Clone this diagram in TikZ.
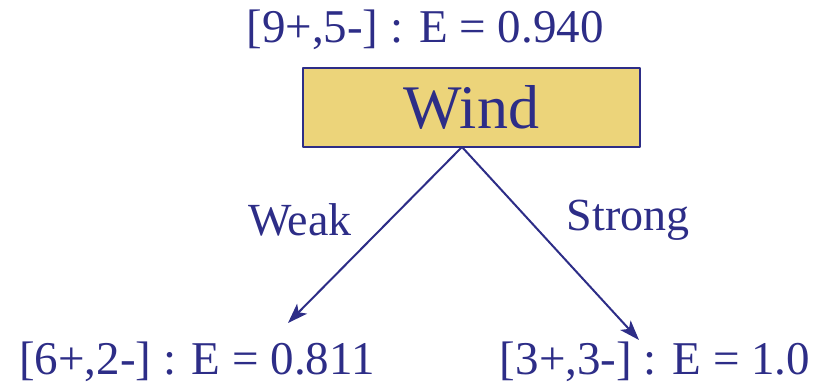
\documentclass[tikz,border=0pt]{standalone}
\usepackage{fontspec}
\setmainfont{Liberation Serif}
\usetikzlibrary{arrows.meta}
\definecolor{inkblue}{RGB}{45,45,135}
\definecolor{boxgold}{RGB}{236,212,122}
\begin{document}
\begin{tikzpicture}[x=1pt, y=1pt, line join=round, line cap=round]
    % Gaya node dan panah
    \tikzset{
      lbl/.style={text=inkblue, font=\fontsize{47}{50}\selectfont, inner sep=0pt},
      branch/.style={text=inkblue, font=\fontsize{46}{50}\selectfont, inner sep=0pt},
      attr/.style={draw=inkblue, fill=boxgold, line width=2pt, minimum width=337pt,
        minimum height=79pt, text=inkblue, font=\fontsize{62}{66}\selectfont},
      edge/.style={-{Stealth[length=20pt, width=14pt, inset=5pt]}, draw=inkblue, line width=2pt}
    }
    \useasboundingbox (0,0) rectangle (817,391);

    % Akar: atribut Wind
    \node[lbl] (rootE) at (425,361) {[9+,5-] : E = 0.940};
    \node[attr] (root) at (471.5,283.5) {Wind};

    % Anak-anak
    \node[lbl] (leftE) at (197,29) {[6+,2-] : E = 0.811};
    \node[lbl] (rightE) at (655,29) {[3+,3-] : E = 1.0};

    % Ujung panah
    \coordinate (top) at (462,244);
    \coordinate (tipL) at (288,68);
    \coordinate (tipR) at (639,51);

    \draw[edge] (top) -- (tipL);
    \draw[edge] (top) -- (tipR);

    % Label cabang
    \node[branch] (weak) at (300,171) {Weak};
    \node[branch] (strong) at (628,171) {Strong};
  \end{tikzpicture}
\end{document}
